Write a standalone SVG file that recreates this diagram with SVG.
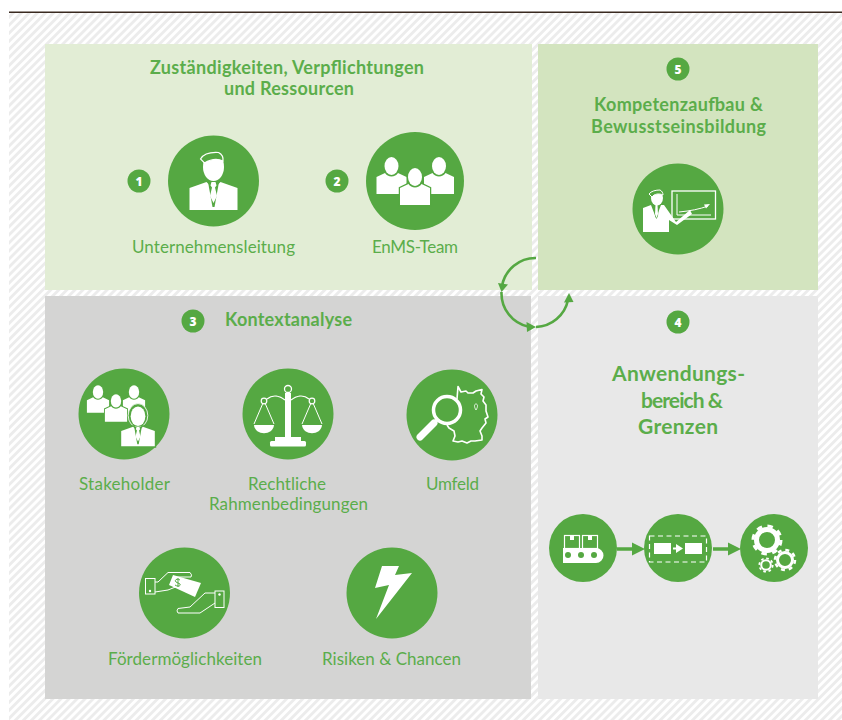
<svg xmlns="http://www.w3.org/2000/svg" width="842" height="720" viewBox="0 0 842 720">
<style>
.c{fill:#55a842}
.w{fill:#fff}
.o{fill:none;stroke:#fff}
.t{font-family:"Lato","Open Sans",sans-serif;fill:#5bad4b;text-anchor:middle}
.l{font-size:17px}
.h{font-weight:700;font-size:18px}
.b{font-weight:700;font-size:21px}
.n{font-family:"Open Sans","Liberation Sans",sans-serif;font-weight:800;font-size:12px;fill:#fff;text-anchor:middle}
.ln{fill:none;stroke:#55a842;stroke-width:2.600}
</style>
<defs>
<pattern id="hatch" width="5.700" height="5.700" patternUnits="userSpaceOnUse" patternTransform="rotate(45)">
<rect width="5.700" height="5.700" fill="#fff"/><rect width="2.800" height="5.700" fill="#ececec"/>
</pattern>
<g id="suitbody">
<path class="w" d="M-24 7L-7 1L0 8L7 1L24 7V29H-24Z"/>
<path class="c" d="M-5.500 1L-1 26H1L5.500 1Z"/>
<path class="w" d="M-2 1H2L3 4.500L1.500 6.500L3.500 15L0 22L-3.500 15L-1.500 6.500L-3 4.500Z"/>
<ellipse class="w" cx="0" cy="-14" rx="10.500" ry="14"/>
</g>
<g id="suit">
<use href="#suitbody"/>
<path class="c" d="M-13 -22C-10 -27 -3 -29 5 -28.500C8 -27 10 -24 9.500 -20C3 -23 -4 -21 -9 -18Z" stroke="#fff" stroke-width="1.200"/>
</g>
<g id="person">
<ellipse class="w" cx="0" cy="0" rx="7" ry="9"/>
<path class="w" d="M-15 11V28H15V11L6.500 7C4 11.500 -4 11.500 -6.500 7Z"/>
</g>
<g id="personO">
<ellipse class="w" cx="0" cy="0" rx="7" ry="9" stroke="#55a842" stroke-width="2.500" paint-order="stroke"/>
<path class="w" d="M-15 11V28H15V11L6.500 7C4 11.500 -4 11.500 -6.500 7Z" stroke="#55a842" stroke-width="2.500" paint-order="stroke"/>
</g>
<path id="arr" class="c" d="M0 -6.500L13 0L0 6.500V1.700H-15V-1.700H0Z"/>
</defs>

<rect x="9" y="13" width="833" height="707" fill="url(#hatch)"/>
<rect x="9" y="11.500" width="833" height="1.500" fill="#3a2a20"/>

<rect id="panel-verantwortung" x="45" y="44" width="487" height="246" fill="#e2edd5"/>
<rect id="panel-kompetenz" x="538" y="44" width="280" height="246" fill="#d3e4bf"/>
<rect id="panel-kontext" x="45" y="296" width="486" height="403" fill="#d4d4d3"/>
<rect id="panel-anwendung" x="538" y="296" width="280" height="403" fill="#e8e8e8"/>

<g id="title-verantwortung">
<text class="t h" x="287" y="74" textLength="274">Zuständigkeiten, Verpflichtungen</text>
<text class="t h" x="289" y="95" textLength="130">und Ressourcen</text>
</g>

<g id="node-1">
<circle class="c" cx="139" cy="181" r="11.500"/><text class="n" x="139" y="185.500">1</text>
<circle class="c" cx="213.500" cy="181" r="45.500"/>
<use href="#suit" x="213.500" y="181"/>
<text class="t l" x="213.500" y="253" textLength="163">Unternehmensleitung</text>
</g>

<g id="node-2">
<circle class="c" cx="337" cy="181" r="11.500"/><text class="n" x="337" y="185.500">2</text>
<circle class="c" cx="415" cy="181" r="49"/>
<use href="#person" x="391.500" y="166"/>
<use href="#person" x="439" y="166"/>
<use href="#personO" x="415" y="177"/>
<text class="t l" x="415" y="253" textLength="86">EnMS-Team</text>
</g>

<g id="node-5">
<circle class="c" cx="678" cy="69" r="11.500"/><text class="n" x="678" y="73.500">5</text>
<text class="t h" x="678.500" y="111" textLength="169">Kompetenzaufbau &amp;</text>
<text class="t h" x="678.500" y="133" textLength="175">Bewusstseinsbildung</text>
<circle class="c" cx="678" cy="209" r="45.500"/>
<rect class="o" x="672" y="191" width="43.500" height="28" stroke-width="1.300"/>
<path class="o" d="M677 194V215H711" stroke-width="1"/>
<path class="o" d="M679 212C690 211 700 209 708 206" stroke-width="1"/>
<path class="w" d="M710 204L704 204.500L706 208.500Z"/>
<path class="w" d="M643 208L651 205L656 218L661 205L664 205L676 222L690 210L692 214L677 225L669 220V232H643Z"/>
<path class="c" d="M654 205H659L658 216L656.500 219L655 216Z"/>
<path class="w" d="M655.500 205H657.500L658 214L656.500 218L655 214Z"/>
<ellipse class="w" cx="657" cy="198" rx="6" ry="7.500"/>
<path class="c" d="M649 194C651 191 656 190 660 190C662 191 663 193 663 195C659 193 654 194 652 197Z" stroke="#fff" stroke-width="1"/>
</g>

<g id="node-3">
<circle class="c" cx="193" cy="321" r="11.500"/><text class="n" x="193" y="325.500">3</text>
<text class="t h" x="288.500" y="326" textLength="127">Kontextanalyse</text>
</g>

<g id="node-stakeholder">
<circle class="c" cx="124" cy="414" r="45.500"/>
<use href="#person" transform="translate(98 392) scale(.74)"/>
<use href="#person" transform="translate(134 392) scale(.74)"/>
<use href="#personO" transform="translate(116 401) scale(.74)"/>
<g transform="translate(138 426) scale(.7)">
<ellipse cx="0" cy="-15" rx="14" ry="17" fill="#55a842" stroke="#fff" stroke-width="1.200"/>
<path d="M-24 7L-7 1L0 8L7 1L24 7V29H-24Z" class="c" stroke="#55a842" stroke-width="4"/>
<use href="#suitbody"/>
</g>
<text class="t l" x="124.500" y="490" textLength="91">Stakeholder</text>
</g>

<g id="node-recht">
<circle class="c" cx="288" cy="414" r="45.500"/>
<circle class="o" cx="288" cy="389" r="3.500" stroke-width="1.300"/>
<rect class="w" x="285" y="393" width="6" height="46"/>
<path class="w" d="M275 437H301V441H275Z"/>
<rect class="w" x="270" y="441" width="36" height="5.500" rx="1.500"/>
<path class="o" d="M267 399C273 394 280 396 285 400M291 400C296 396 303 394 309 399" stroke-width="1.200"/>
<circle class="o" cx="264" cy="401" r="2.800" stroke-width="1.200"/>
<circle class="o" cx="312" cy="401" r="2.800" stroke-width="1.200"/>
<path class="o" d="M263 403L254 424M265 403L274 424M311 403L302 424M313 403L322 424" stroke-width="1"/>
<path class="w" d="M254 425H274C273 436 255 436 254 425Z"/>
<path class="w" d="M302 425H322C321 436 303 436 302 425Z"/>
<text class="t l" x="287" y="490" textLength="78">Rechtliche</text>
<text class="t l" x="288.500" y="510" textLength="159">Rahmenbedingungen</text>
</g>

<g id="node-umfeld">
<circle class="c" cx="452" cy="415" r="45.500"/>
<path class="o" d="M457 399L458 386.500L461 392L466 391L468 393L473 393L476 391L482 389.500L481 394L484 397L483 401L486 405L486 411L488 417L485 419L486 423L482 428L480 431L482 436L482 440L475 441L471 441L467 443L462 441L458 442L453 441L455 436L454 431L449 428L447 425" stroke-width="1.600" stroke-linejoin="round"/>
<circle class="o" cx="447" cy="410" r="13.500" stroke-width="3.500"/>
<path class="o" d="M437 420L435 422" stroke-width="3.500"/>
<path class="o" d="M434 423L420 437" stroke-width="7" stroke-linecap="round"/>
<path class="o" d="M476 404C474 404 474 407 476 410C478 407 478 404 476 404Z" stroke-width=".8"/>
<text class="t l" x="452.500" y="490" textLength="53">Umfeld</text>
</g>

<g id="node-foerder">
<circle class="c" cx="184.500" cy="593" r="45.500"/>
<rect class="o" x="145.500" y="578.500" width="9.500" height="15.500" stroke-width="1"/>
<circle class="w" cx="150" cy="591" r="1.200"/>
<path class="o" d="M155 582H158L168 572.500H190Q192.500 575 191 577H175L178 586L168 590L155 592" stroke-width="1"/>
<path class="w" d="M173 575L201 583L195 597L169 585Z"/>
<path d="M180 580C177 578 174 580 176 582L180 584C181 586 178 587 175 585M178 578V587" fill="none" stroke="#55a842" stroke-width="1"/>
<rect class="o" x="215" y="591" width="9" height="16.500" stroke-width="1"/>
<circle class="w" cx="219.500" cy="594.500" r="1.200"/>
<path class="o" d="M215 593H205L190 607L178 608.500Q176 611 178 613H200L215 603" stroke-width="1"/>
<text class="t l" x="185" y="665" textLength="154">Fördermöglichkeiten</text>
</g>

<g id="node-risiken">
<circle class="c" cx="392" cy="593" r="45.500"/>
<path class="w" d="M382 566H399L395 575L412 573L376 619L389 585L375 588Z"/>
<text class="t l" x="391.500" y="665" textLength="139">Risiken &amp; Chancen</text>
</g>

<g id="node-4">
<circle class="c" cx="678" cy="322" r="11.500"/><text class="n" x="678" y="326.500">4</text>
<text class="t b" x="678.500" y="381" textLength="133">Anwendungs-</text>
<text class="t b" x="682" y="408" textLength="82">bereich &amp;</text>
<text class="t b" x="678" y="434" textLength="80">Grenzen</text>
</g>

<g id="node-foerderband">
<circle class="c" cx="583" cy="548" r="34"/>
<rect class="o" x="564.500" y="535.500" width="15" height="13" stroke-width="1.200"/>
<rect class="o" x="582.500" y="535.500" width="15" height="13" stroke-width="1.200"/>
<rect class="w" x="570" y="535" width="4" height="5"/>
<rect class="w" x="588" y="535" width="4" height="5"/>
<path class="w" d="M563 548H596A7.500 7.500 0 0 1 596 563H563Z"/>
<circle class="c" cx="568" cy="555" r="3"/><circle class="c" cx="581" cy="555" r="3"/><circle class="c" cx="594" cy="555" r="3"/>
</g>
<g id="node-prozess">
<circle class="c" cx="678" cy="548" r="34"/>
<rect class="o" x="649.500" y="536" width="57" height="26" stroke-width="1.200" stroke-dasharray="5 3.500"/>
<rect class="w" x="654" y="543" width="17" height="11"/>
<rect class="w" x="685" y="543" width="17" height="11"/>
<path class="w" d="M673 547.500H676V544L683 548.500L676 553V549.500H673Z"/>
</g>
<g id="node-zahnrad">
<circle class="c" cx="774" cy="548" r="34"/>
<circle class="o" cx="767" cy="540" r="10.500" stroke-width="5"/>
<circle class="o" cx="767" cy="540" r="14" stroke-width="3" stroke-dasharray="5.500 5.500"/>
<circle class="o" cx="785" cy="560" r="7.500" stroke-width="3"/>
<circle class="o" cx="785" cy="560" r="10" stroke-width="2.500" stroke-dasharray="3.930 3.930"/>
<circle class="o" cx="766" cy="565" r="4.800" stroke-width="2"/>
<circle class="o" cx="766" cy="565" r="6.700" stroke-width="1.800" stroke-dasharray="2.630 2.630"/>
</g>

<g id="connectors">
<use href="#arr" x="632" y="549"/>
<use href="#arr" x="728" y="549"/>
<path class="ln" d="M536 258A34 34 0 0 0 502 286"/>
<path class="ln" d="M501.500 292A34 34 0 0 0 528 326.500"/>
<path class="ln" d="M536 327A34 34 0 0 0 568 300"/>
<path class="c" d="M501.500 292L498 283L508 284.500Z"/>
<path class="c" d="M536 327L526.500 322L527 332Z"/>
<path class="c" d="M569 293L564 302.500L573.500 302Z"/>
</g>
</svg>
